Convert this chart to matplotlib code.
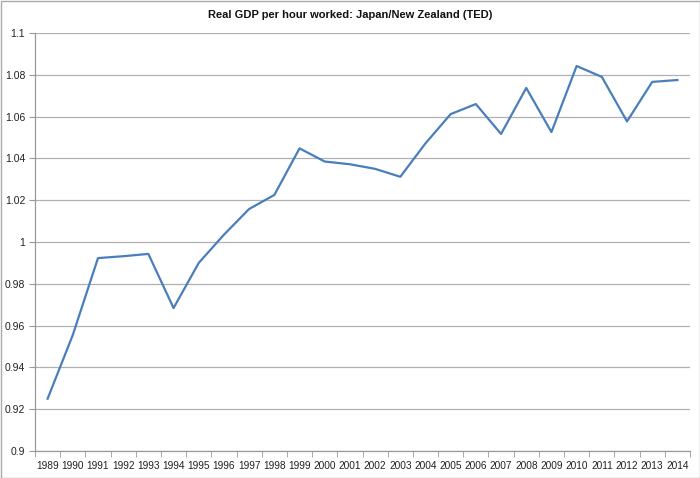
import matplotlib
matplotlib.use("Agg")
import matplotlib.pyplot as plt
from matplotlib.patches import Rectangle
import numpy as np

years = [str(y) for y in range(1989, 2015)]
values = [0.925, 0.9555, 0.9923, 0.9932, 0.9943, 0.9684, 0.990, 1.0035, 1.0158, 1.0225,
          1.0448, 1.0385, 1.0372, 1.0350, 1.0312, 1.0472, 1.0612, 1.0660, 1.0517, 1.0737,
          1.0526, 1.0842, 1.0790, 1.0577, 1.0766, 1.0775]
yticks = [0.9, 0.92, 0.94, 0.96, 0.98, 1.0, 1.02, 1.04, 1.06, 1.08, 1.1]
ylabels = ["0.9", "0.92", "0.94", "0.96", "0.98", "1", "1.02", "1.04", "1.06", "1.08", "1.1"]
title = "Real GDP per hour worked: Japan/New Zealand (TED)"

plt.rcParams['font.family'] = ['Liberation Sans', 'DejaVu Sans']

fig = fig = plt.figure(figsize=(7.0, 4.78), dpi=100)
ax = fig.add_axes([35/700, 1-451/478, 655/700, 418/478])

x = np.arange(len(years))
ax.plot(x, values, color='#4a7ebb', linewidth=1.6)

ax.set_xlim(-0.5, len(years)-0.5)
ax.set_ylim(0.9, 1.1)
ax.set_yticks(yticks)
ax.set_yticklabels(ylabels, fontsize=7.5, color='#222222')
ax.set_xticks(x)
ax.set_xticklabels(years, fontsize=7.3, color='#222222')
ax.set_xticks(np.arange(len(years)+1)-0.5, minor=True)
ax.tick_params(axis='x', which='major', length=0, pad=7)
ax.tick_params(axis='x', which='minor', length=4, color='#999999', direction='out')
ax.tick_params(axis='y', length=4, color='#999999', direction='out', pad=3)
ax.grid(axis='y', color='#b0b0b0', linewidth=0.9)
ax.set_axisbelow(True)
for s in ['top', 'right']:
    ax.spines[s].set_visible(False)
for s in ['left', 'bottom']:
    ax.spines[s].set_color('#999999')
    ax.spines[s].set_linewidth(0.9)

fig.text(0.5, 1-15/478, title, ha='center', va='center', fontsize=8, fontweight='bold', color='#111111')
fig.patches.append(Rectangle((0.5/700, 0.5/478), 1-1/700, 1-1/478, transform=fig.transFigure,
                             fill=False, edgecolor='#aaaaaa', linewidth=1.0))

fig.savefig("out.png", dpi=100)
